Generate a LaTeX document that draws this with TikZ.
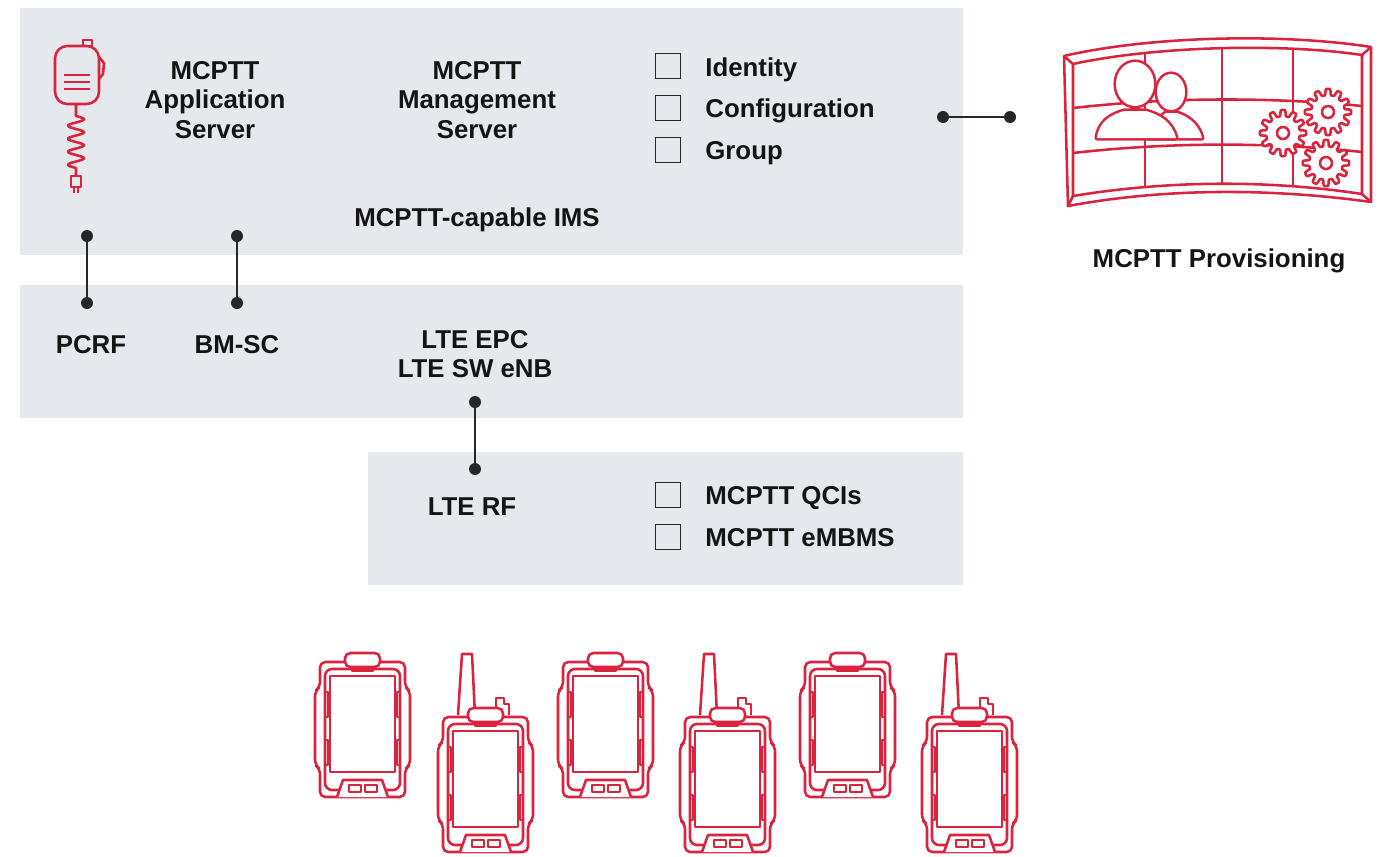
\documentclass[tikz,border=0pt]{standalone}
\usepackage{fontspec}
\setmainfont{Liberation Sans}
\definecolor{tiergray}{RGB}{229,233,237}
\definecolor{iconred}{RGB}{218,36,62}
\definecolor{linkgray}{RGB}{38,38,38}
\definecolor{inkblack}{RGB}{20,20,20}

\tikzset{
  tier/.style={fill=tiergray, draw=none},
  txt/.style={font=\bfseries\fontsize{14.7}{16.8}\selectfont, text=inkblack, inner sep=0pt, align=center},
  listtxt/.style={txt, anchor=base west},
  chk/.style={draw=linkgray, line width=1.1pt, minimum size=0.5cm, inner sep=0pt},
  joint/.style={circle, fill=linkgray, inner sep=0pt, minimum size=0.24cm},
  link/.style={draw=linkgray, line width=1.1pt},
  icon/.style={draw=iconred, line width=1.45pt, line join=round},
  % rugged handset, origin = top left of the bumper
  pics/handset/.style={code={
    \draw[icon, rounded corners=3] (5,0) -- (90,0) -- (90,25) -- (95,29) -- (95,103) -- (90,107)
      -- (90,135) -- (5,135) -- (5,107) -- (0,103) -- (0,29) -- (5,25) -- cycle;
    \draw[icon, rounded corners=4] (10,7) rectangle (85,128);
    \draw[icon] (10,30) rectangle (13,55) (10,78) rectangle (13,103)
                (82,30) rectangle (85,55) (82,78) rectangle (85,103);
    \draw[icon] (15,14) rectangle (80,110);
    \draw[icon, fill=white, rounded corners=3] (30,-9) rectangle (65,5);
    \draw[icon] (37,5) -- (37,9) -- (58,9) -- (58,5);
    \draw[icon, fill=white] (22,135) -- (28,118) -- (67,118) -- (73,135);
    \draw[icon] (34,123) rectangle (46,130) (50,123) rectangle (62,130);
  }},
  % same handset with antenna and knob
  pics/radio/.style={code={
    \draw[icon] (20,-2) -- (24,-63) -- (34,-63) -- (37,-2);
    \draw[icon] (58,-2) -- (58,-19) -- (66,-19) -- (66,-13) -- (71,-13) -- (71,-2);
    \pic {handset};
  }},
}

\begin{document}
\begin{tikzpicture}[x=0.02cm, y=-0.02cm]
    \useasboundingbox (0,0) rectangle (1380,856);

    % layers
    \fill[tier] (20,8) rectangle (963,255);
    \fill[tier] (20,285) rectangle (963,418);
    \fill[tier] (368,452) rectangle (963,585);

    % speaker mic
    \begin{scope}[icon]
        \draw (83,46) rectangle (92,40);
        \draw[rounded corners=7] (55,46) rectangle (99,104);
        \draw (99,57) -- (104,63) -- (103,74) -- (99,79);
        \foreach \ly in {75,82,89} \draw (64,\ly) -- (90,\ly);
        \draw (76,104) -- (76,116) -- plot[domain=0:1440, samples=90] ({76+8*sin(\x)}, {116+\x/1440*52}) -- (76,176);
        \draw (71,176) rectangle (81,187);
        \draw (74,187) -- (74,193) (78,187) -- (78,193);
    \end{scope}

    % IMS layer
    \node[txt] (as) at (215,100) {MCPTT\\Application\\Server};
    \node[txt] (ms) at (477,100) {MCPTT\\Management\\Server};
    \node[chk] (bid) at (668,66) {};
    \node[chk] (bcfg) at (668,108) {};
    \node[chk] (bgrp) at (668,150) {};
    \node[listtxt] (id) at (705,76) {Identity};
    \node[listtxt] (cfg) at (705,117) {Configuration};
    \node[listtxt] (grp) at (705,159) {Group};
    \node[txt, anchor=base] (ims) at (477,226) {MCPTT-capable IMS};

    % EPC layer
    \node[txt, anchor=base] (pcrf) at (91,353) {PCRF};
    \node[txt, anchor=base] (bmsc) at (237,353) {BM-SC};
    \node[txt] (epc) at (475,354) {LTE EPC\\LTE SW eNB};

    % RF layer
    \node[txt, anchor=base] (rf) at (472,515) {LTE RF};
    \node[chk] (bqci) at (668,495) {};
    \node[chk] (bmbms) at (668,537) {};
    \node[listtxt] (qci) at (705,504) {MCPTT QCIs};
    \node[listtxt] (mbms) at (705,546) {MCPTT eMBMS};

    % links between layers
    \node[joint] (pcrfU) at (87,236) {};
    \node[joint] (pcrfD) at (87,303) {};
    \node[joint] (bmscU) at (237,236) {};
    \node[joint] (bmscD) at (237,303) {};
    \node[joint] (epcD) at (475,402) {};
    \node[joint] (rfU) at (475,469) {};
    \node[joint] (provL) at (943,117) {};
    \node[joint] (provR) at (1010,117) {};
    \draw[link] (pcrfU) -- (pcrfD);
    \draw[link] (bmscU) -- (bmscD);
    \draw[link] (epcD) -- (rfU);
    \draw[link] (provL) -- (provR);

    % provisioning wall
    \begin{scope}[icon]
        \draw (1064,56) .. controls (1150,36) and (1282,33) .. (1371,47) -- (1371,202)
              .. controls (1270,188) and (1165,188) .. (1068,206) -- cycle;
        \draw (1073,64) .. controls (1156,46) and (1282,43) .. (1362,55) -- (1362,194)
              .. controls (1270,180) and (1170,180) .. (1073,196) -- cycle;
        \draw (1064,56) -- (1073,64) (1371,47) -- (1362,55)
              (1371,202) -- (1362,194) (1068,206) -- (1073,196);
        \begin{scope}
            \clip (1073,64) .. controls (1156,46) and (1282,43) .. (1362,55) -- (1362,194)
                  .. controls (1270,180) and (1170,180) .. (1073,196) -- cycle;
            \foreach \cx in {1145,1222,1293} \draw (\cx,30) -- (\cx,220);
            \draw (1073,108) .. controls (1170,97) and (1270,97) .. (1362,106);
            \draw (1073,153) .. controls (1170,142) and (1270,142) .. (1362,152);
        \end{scope}
        % people
        \draw[line width=2.9pt] (1171,92) ellipse [x radius=14, y radius=18]
            (1148,138) .. controls (1152,124) and (1160,117) .. (1166,113) -- (1177,113)
            .. controls (1190,117) and (1199,126) .. (1202,138) -- cycle;
        \fill[white] (1171,92) ellipse [x radius=14, y radius=18]
            (1148,138) .. controls (1152,124) and (1160,117) .. (1166,113) -- (1177,113)
            .. controls (1190,117) and (1199,126) .. (1202,138) -- cycle;
        \draw[line width=2.9pt] (1135,84) ellipse [x radius=19, y radius=22]
            (1097,138) .. controls (1099,122) and (1110,115) .. (1124,111) -- (1146,111)
            .. controls (1160,115) and (1172,122) .. (1176,138) -- cycle;
        \fill[white] (1135,84) ellipse [x radius=19, y radius=22]
            (1097,138) .. controls (1099,122) and (1110,115) .. (1124,111) -- (1146,111)
            .. controls (1160,115) and (1172,122) .. (1176,138) -- cycle;
        % gears
        \foreach \gx/\gy in {1283/133, 1328/112, 1326/163}
            \draw[fill=white] plot[domain=0:360, samples=241]
                ({\gx+(20+3.2*tanh(3*cos(12*\x)))*cos(\x)}, {\gy+(20+3.2*tanh(3*cos(12*\x)))*sin(\x)}) -- cycle
                (\gx,\gy) circle [radius=6];
    \end{scope}
    \node[txt, anchor=base] (prov) at (1219,267) {MCPTT Provisioning};

    % handsets
    \pic at (315,662) {handset};
    \pic at (438,717) {radio};
    \pic at (558,662) {handset};
    \pic at (680,717) {radio};
    \pic at (800,662) {handset};
    \pic at (922,717) {radio};
\end{tikzpicture}
\end{document}
